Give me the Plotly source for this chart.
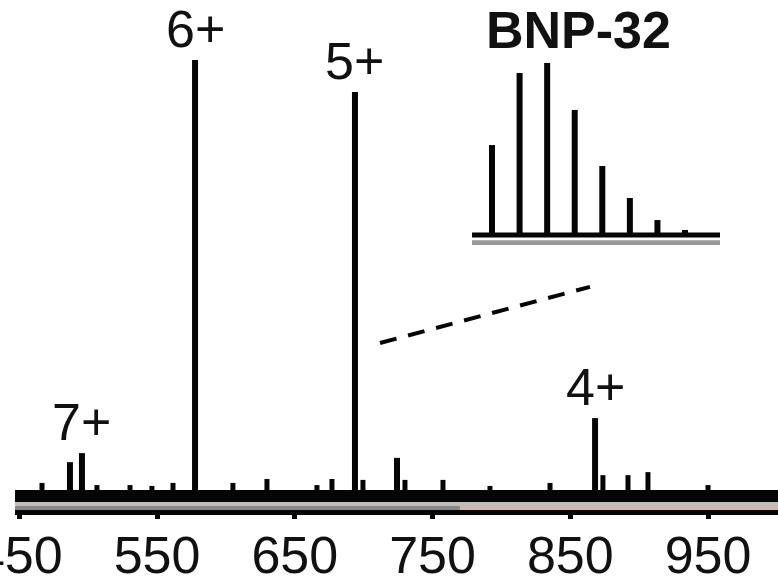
import plotly.graph_objects as go

# ---- data ----
tick_vals = [450, 550, 650, 750, 850, 950]
tick_text = ["450", "550", "650", "750", "850", "950"]

major_mz = [486.8, 495.5, 577.6, 693.7, 724.2, 868.0]
major_int = [6.9, 9.0, 100.0, 92.6, 7.9, 17.1]

minor_mz = [466.5, 506.4, 530.4, 546.3, 561.6, 605.1, 629.8, 666.1, 677.0,
            699.5, 730.0, 757.6, 791.7, 835.3, 873.7, 891.9, 906.4, 950.0]
minor_int = [2.1, 1.6, 1.6, 1.4, 2.1, 2.1, 3.0, 1.6, 3.0,
             2.8, 2.8, 2.8, 1.4, 2.1, 3.9, 3.9, 4.6, 1.6]

charge_labels = ["7+", "6+", "5+", "4+"]
charge_mz = [495.5, 577.6, 693.7, 868.0]
charge_int = [9.0, 100.0, 92.6, 17.1]

iso_mz = [693.55, 693.75, 693.95, 694.15, 694.35, 694.55, 694.75, 694.95]
iso_int = [52.3, 94.2, 100.0, 72.7, 40.1, 21.5, 8.7, 2.9]
inset_title = "BNP-32"


def sticks(xs, ys):
    X, Y = [], []
    for x, y in zip(xs, ys):
        X += [x, x, None]
        Y += [0, y, None]
    return X, Y


FONT = "Liberation Sans, Arial, sans-serif"
fig = go.Figure()

mx, my = sticks(major_mz, major_int)
fig.add_trace(go.Scatter(x=mx, y=my, mode="lines", line=dict(color="#050505", width=6),
                         hoverinfo="skip", showlegend=False))
nx, ny = sticks(minor_mz, minor_int)
fig.add_trace(go.Scatter(x=nx, y=ny, mode="lines", line=dict(color="#050505", width=5),
                         hoverinfo="skip", showlegend=False))

ix, iy = sticks(iso_mz, iso_int)
fig.add_trace(go.Scatter(x=ix, y=iy, mode="lines", line=dict(color="#050505", width=6),
                         xaxis="x2", yaxis="y2", hoverinfo="skip", showlegend=False))

shapes = [
    # thick noisy baseline band
    dict(type="rect", xref="paper", yref="y", x0=0, x1=1, y0=-2.31, y1=0.46,
         fillcolor="#050505", line=dict(width=0), layer="below"),
    dict(type="rect", xref="paper", yref="y", x0=0, x1=1, y0=-3.24, y1=-2.31,
         fillcolor="#c2bebb", line=dict(width=0), layer="below"),
    dict(type="rect", xref="x", yref="y", x0=440, x1=770, y0=-4.17, y1=-3.24,
         fillcolor="#8a8888", line=dict(width=0), layer="below"),
    dict(type="rect", xref="x", yref="y", x0=770, x1=1010, y0=-4.17, y1=-3.24,
         fillcolor="#cbb9b0", line=dict(width=0), layer="below"),
    # inset baseline
    dict(type="line", xref="x2 domain", yref="y2", x0=0, x1=1, y0=-4.5, y1=-4.5,
         line=dict(color="#9a9898", width=5)),
    dict(type="line", xref="x2 domain", yref="y2", x0=0, x1=1, y0=0, y1=0,
         line=dict(color="#050505", width=5)),
    # dashed zoom line
    dict(type="line", xref="x", yref="y", x0=711.9, y0=34.5, x1=864.3, y1=47.5,
         line=dict(color="#050505", width=4, dash="17px,12px")),
]

annotations = []
for lab, x, y in zip(charge_labels, charge_mz, charge_int):
    annotations.append(dict(x=x, y=y, xref="x", yref="y", text=lab, showarrow=False,
                            xanchor="center", yanchor="bottom", yshift=0,
                            font=dict(family=FONT, size=52, color="#111")))
annotations.append(dict(x=0.738, y=0.942, xref="paper", yref="paper", text="<b>%s</b>" % inset_title,
                        showarrow=False, xanchor="center", yanchor="middle",
                        font=dict(family=FONT, size=52, color="#111")))

fig.update_layout(
    width=778, height=581,
    margin=dict(l=15, r=0, t=0, b=71, autoexpand=False),
    paper_bgcolor="white", plot_bgcolor="white",
    showlegend=False,
    xaxis=dict(range=[446.9, 1000.8], tickvals=tick_vals, ticktext=tick_text,
               showgrid=False, zeroline=False, showline=True, linecolor="#050505",
               linewidth=5, ticks="outside", ticklen=4, tickwidth=5, tickcolor="#050505",
               tickfont=dict(family=FONT, size=52, color="#111"),
               ticklabelstandoff=-8,
               ticklabeloverflow="allow", automargin=False, fixedrange=True),
    yaxis=dict(range=[-4.17, 113.9], visible=False, fixedrange=True, automargin=False),
    xaxis2=dict(domain=[0.599, 0.924], anchor="y2", range=[693.405, 695.204],
                visible=False, fixedrange=True),
    yaxis2=dict(domain=[0.5196, 0.8824], anchor="x2", range=[-5.81, 101.74],
                visible=False, fixedrange=True),
    shapes=shapes,
    annotations=annotations,
)

fig.write_html("out.html", config={"displayModeBar": False},
               post_script="document.body.style.margin='0';document.body.style.overflow='hidden';")
